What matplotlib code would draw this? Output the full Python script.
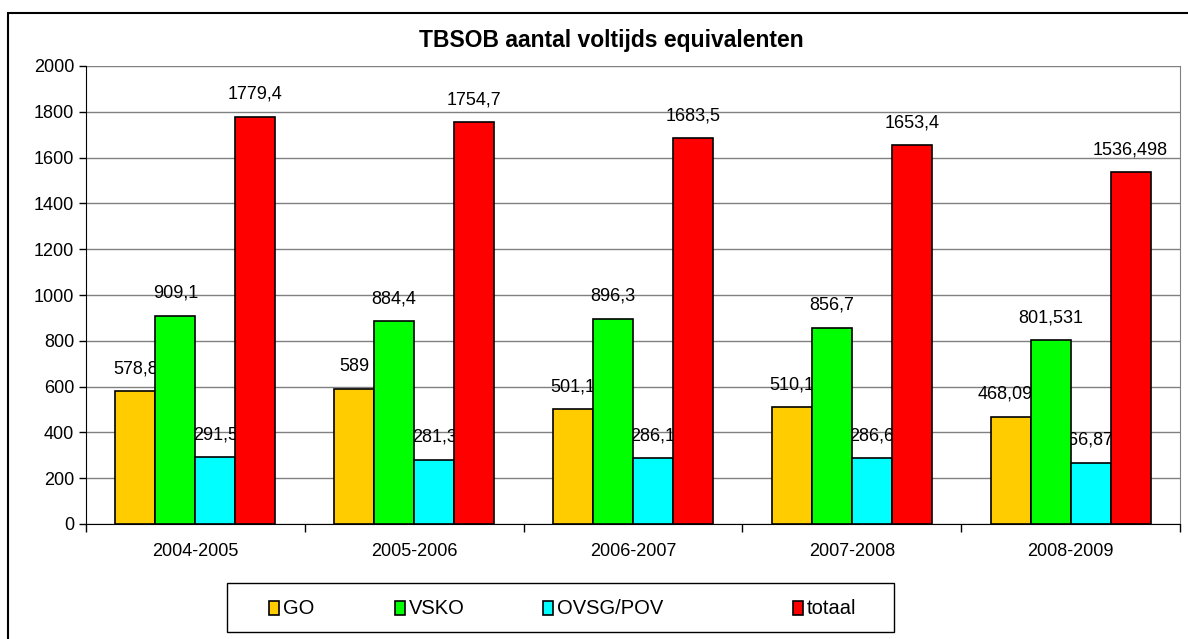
import numpy as np
import matplotlib
matplotlib.use("Agg")
import matplotlib.pyplot as plt
from matplotlib.patches import Rectangle

# Chart data
years = ["2004-2005", "2005-2006", "2006-2007", "2007-2008", "2008-2009"]
go = [578.8, 589, 501.1, 510.1, 468.095]
vsko = [909.1, 884.4, 896.3, 856.7, 801.531]
ovsg_pov = [291.5, 281.3, 286.1, 286.6, 266.872]
totaal = [1779.4, 1754.7, 1683.5, 1653.4, 1536.498]
series_names = ["GO", "VSKO", "OVSG/POV", "totaal"]
colors = ["#FFCC00", "#00FF00", "#00FFFF", "#FF0000"]

plt.rcParams["font.family"] = ["Liberation Sans", "DejaVu Sans"]

W, H = 1188, 639
fig = plt.figure(figsize=(W / 100, H / 100), dpi=100)

def fx(px):
    return px / W

def fy(py):
    return 1 - py / H

# outer chart frame (only left/top edges fall inside the image)
fig.add_artist(Rectangle((fx(8), fy(700)), fx(1300), (700 - 13) / H,
                         transform=fig.transFigure, fill=False, edgecolor="black", lw=1.5))

ax = fig.add_axes([fx(86), fy(524), fx(1180 - 86), (524 - 66) / H])

x = np.arange(len(years))
bw = 0.183
data = [go, vsko, ovsg_pov, totaal]
for i, (vals, col) in enumerate(zip(data, colors)):
    pos = x + (i - 1.5) * bw
    ax.bar(pos, vals, width=bw, color=col, edgecolor="black", linewidth=1.2, zorder=3)
    for p, v in zip(pos, vals):
        lbl = str(v).replace(".", ",")
        ax.annotate(lbl, (p, v), xytext=(0, 13), textcoords="offset points",
                    ha="center", va="baseline", fontsize=13, zorder=2)

ax.set_xlim(-0.5, len(years) - 0.5)
ax.set_ylim(0, 2000)
ax.set_yticks(np.arange(0, 2001, 200))
ax.yaxis.grid(True, color="#808080", linewidth=1, zorder=0)
ax.set_axisbelow(True)

ax.set_xticks(x)
ax.set_xticklabels(years, fontsize=13)
ax.tick_params(axis="x", which="major", length=0, pad=14)
ax.set_xticks(np.arange(-0.5, len(years)), minor=True)
ax.tick_params(axis="x", which="minor", length=6, direction="out", width=1)
ax.tick_params(axis="y", labelsize=13, length=5, width=1, direction="out")

ax.spines["left"].set_color("black")
ax.spines["bottom"].set_color("black")
ax.spines["top"].set_visible(False)
ax.spines["right"].set_color("#808080")

fig.text(fx(611), fy(41), "TBSOB aantal voltijds equivalenten", ha="center", va="center",
         fontsize=16.5, fontweight="bold")

# legend box drawn by hand to match the layout
fig.add_artist(Rectangle((fx(227), fy(632)), fx(894 - 227), (632 - 583) / H,
                         transform=fig.transFigure, fill=False, edgecolor="black", lw=1))
marker_x = [269, 395, 543, 793]
for mx, name, col in zip(marker_x, series_names, colors):
    fig.add_artist(Rectangle((fx(mx), fy(615)), fx(10), 14 / H, transform=fig.transFigure,
                             facecolor=col, edgecolor="black", lw=1.2))
    fig.text(fx(mx + 14), fy(608), name, ha="left", va="center", fontsize=14.5)

fig.savefig("out.png", dpi=100)
